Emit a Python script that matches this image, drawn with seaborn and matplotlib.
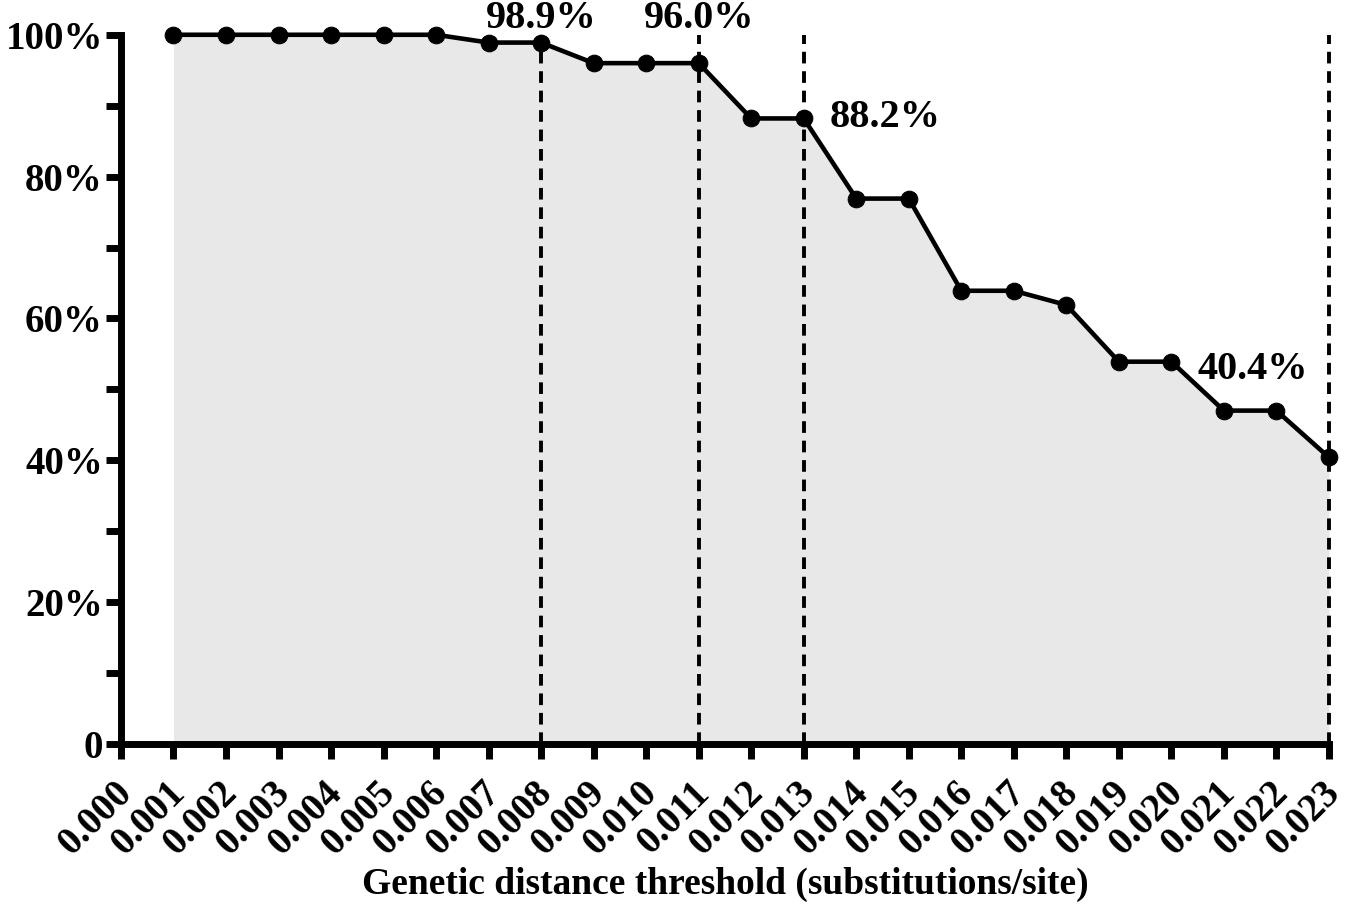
import numpy as np
import pandas as pd
import matplotlib
matplotlib.use("Agg")
import matplotlib.pyplot as plt
import matplotlib.transforms as mtransforms
import seaborn as sns

# Dati
thresholds = [0.001, 0.002, 0.003, 0.004, 0.005, 0.006, 0.007, 0.008,
              0.009, 0.010, 0.011, 0.012, 0.013, 0.014, 0.015, 0.016,
              0.017, 0.018, 0.019, 0.020, 0.021, 0.022, 0.023]
percent = [100.0, 100.0, 100.0, 100.0, 100.0, 100.0, 98.9, 98.9,
           96.0, 96.0, 96.0, 88.2, 88.2, 76.9, 76.9, 63.9,
           63.9, 61.9, 53.9, 53.9, 47.0, 47.0, 40.4]
marked_x = [0.008, 0.011, 0.013, 0.023]
marked_labels = ["98.9%", "96.0%", "88.2%", "40.4%"]
xtick_labels = [f"{v:.3f}" for v in np.arange(0, 24) * 0.001]
ytick_labels = ["0", "20%", "40%", "60%", "80%", "100%"]

df = pd.DataFrame({"threshold": thresholds, "percent": percent})

sns.set_style("ticks")
plt.rcParams["font.family"] = ["Liberation Serif", "DejaVu Serif"]
plt.rcParams["font.weight"] = "bold"
plt.rcParams["text.color"] = "black"
plt.rcParams["axes.edgecolor"] = "black"
plt.rcParams["xtick.color"] = "black"
plt.rcParams["ytick.color"] = "black"
plt.rcParams["axes.labelcolor"] = "black"

fig = plt.figure(figsize=(13.47, 9.15), dpi=100)
ax = fig.add_axes([0.0898, 0.187, 0.8968, 0.775])

ax.fill_between(df["threshold"], 0, df["percent"], color="#e8e8e8", lw=0, zorder=1)

for xv in marked_x:
    ax.axvline(xv, ymin=0, ymax=1, color="black", lw=2.8, ls=(0, (3.0, 2.0)),
               zorder=2, clip_on=False)

sns.lineplot(data=df, x="threshold", y="percent", ax=ax, color="black",
             lw=3.3, marker="o", markersize=12, markeredgecolor="black",
             zorder=4, clip_on=False)

# etichette delle soglie (posizioni del testo)
label_pos = [(0.008, 102.3, "center"),
             (0.011, 102.3, "center"),
             (0.0135, 88.3, "left"),
             (0.0226, 52.8, "right")]
for (tx, ty, ha), lab in zip(label_pos, marked_labels):
    ax.text(tx, ty, lab, ha=ha, va="center", fontsize=29, fontweight="bold")

ax.set_xlim(0, 0.023)
ax.set_ylim(0, 100)
ax.set_xticks(np.arange(0, 24) * 0.001)
ax.set_xticklabels(xtick_labels, rotation=45, ha="right", rotation_mode="anchor",
                   fontsize=28, fontweight="bold")
ax.set_yticks([0, 20, 40, 60, 80, 100])
ax.set_yticklabels(ytick_labels, fontsize=28, fontweight="bold")
ax.set_yticks([10, 30, 50, 70, 90], minor=True)

ax.tick_params(axis="both", which="major", width=5, length=11, pad=2)
ax.tick_params(axis="x", which="major", pad=11)
ax.tick_params(axis="y", which="minor", width=5, length=11)
for s in ["top", "right"]:
    ax.spines[s].set_visible(False)
for s in ["left", "bottom"]:
    ax.spines[s].set_linewidth(5)

# piccolo spostamento a sinistra per non uscire dal bordo
shift = mtransforms.ScaledTranslation(-7 / 100, 0, fig.dpi_scale_trans)
for tick in ax.xaxis.get_major_ticks():
    tick.label1.set_transform(tick.label1.get_transform() + shift)

ax.set_xlabel("Genetic distance threshold (substitutions/site)", fontsize=27,
              fontweight="bold", labelpad=3)
ax.set_ylabel("")

fig.savefig("out.png", dpi=100)
